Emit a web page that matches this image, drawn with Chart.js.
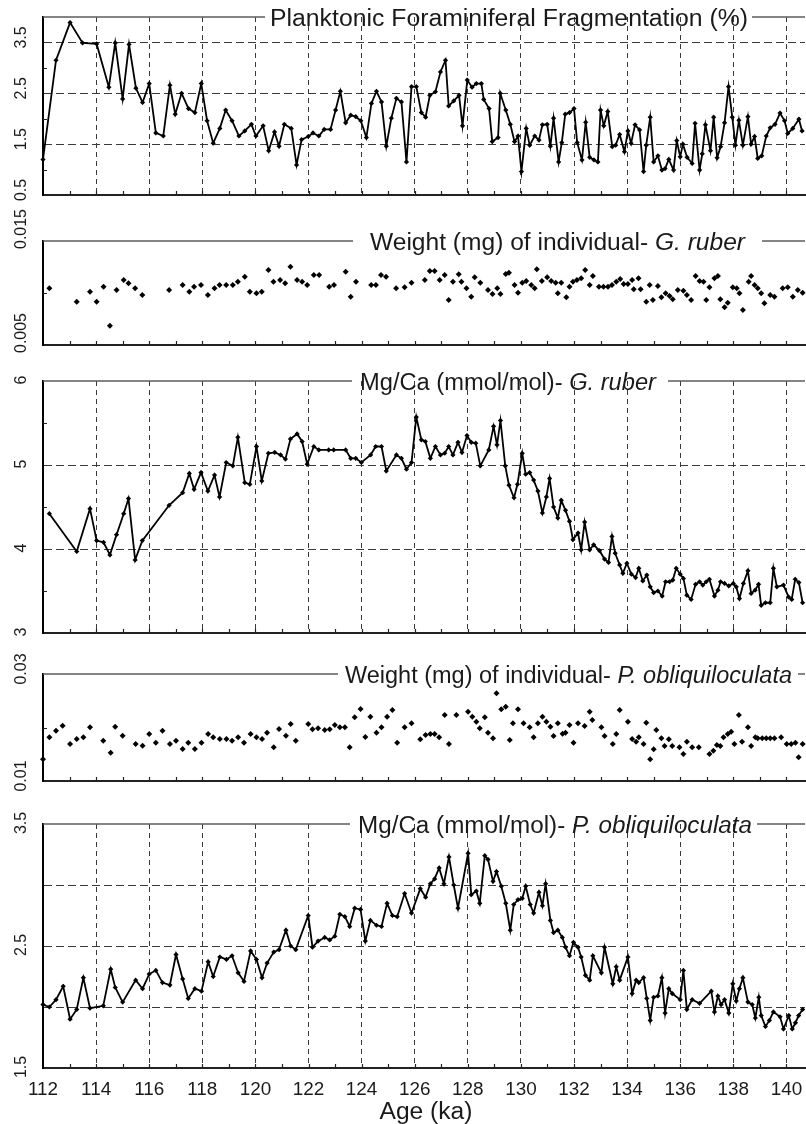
<!DOCTYPE html>
<html>
<head>
<meta charset="utf-8">
<script src="https://cdn.jsdelivr.net/npm/chart.js@4.4.1/dist/chart.umd.min.js"></script>
<style>
  html, body { margin: 0; padding: 0; background: #fff; }
  #wrap { position: relative; width: 806px; height: 1124px; }
  #wrap canvas { position: absolute; left: 0; top: 0; }
</style>
</head>
<body>
<div id="wrap">
  <canvas id="c1" width="806" height="1124"></canvas>
  <canvas id="c2" width="806" height="1124"></canvas>
  <canvas id="c3" width="806" height="1124"></canvas>
  <canvas id="c4" width="806" height="1124"></canvas>
  <canvas id="c5" width="806" height="1124"></canvas>
</div>
<script>
// age axis labels (ka)
const xTicks = ['112', '114', '116', '118', '120', '122', '124', '126', '128', '130', '132', '134', '136', '138', '140'];

// planktonic foraminiferal fragmentation (%)
const fragAge = [112.0, 112.49, 113.02, 113.49, 114.02, 114.48, 114.72, 115.0, 115.24, 115.5, 115.75, 116.0, 116.25, 116.53, 116.78, 116.98, 117.22, 117.48, 117.72, 117.96,
  118.18, 118.41, 118.66, 118.88, 119.12, 119.38, 119.6, 119.85, 120.02, 120.29, 120.5, 120.72, 120.89, 121.09, 121.35, 121.55, 121.74, 121.99, 122.17, 122.39,
  122.59, 122.83, 123.02, 123.2, 123.4, 123.59, 123.78, 123.97, 124.18, 124.37, 124.56, 124.75, 124.93, 125.12, 125.31, 125.5, 125.69, 125.88, 126.06, 126.25,
  126.41, 126.57, 126.78, 126.97, 127.16, 127.28, 127.47, 127.67, 127.8, 127.98, 128.16, 128.32, 128.51, 128.6, 128.8, 128.92, 129.14, 129.22, 129.43, 129.6,
  129.76, 129.89, 130.02, 130.2, 130.33, 130.52, 130.68, 130.81, 130.99, 131.11, 131.23, 131.42, 131.54, 131.67, 131.83, 132.0, 132.12, 132.3, 132.44, 132.59,
  132.75, 132.9, 133.0, 133.12, 133.27, 133.44, 133.57, 133.72, 133.9, 134.03, 134.15, 134.3, 134.47, 134.62, 134.72, 134.87, 135.0, 135.16, 135.31, 135.43,
  135.57, 135.75, 135.87, 136.0, 136.1, 136.26, 136.45, 136.56, 136.73, 136.83, 136.95, 137.14, 137.26, 137.39, 137.52, 137.67, 137.82, 137.96, 138.08, 138.21,
  138.36, 138.55, 138.67, 138.8, 138.92, 139.07, 139.24, 139.39, 139.57, 139.76, 139.93, 140.05, 140.24, 140.47, 140.59];
const fragPct = [1.20, 3.15, 3.89, 3.49, 3.47, 2.62, 3.49, 2.39, 3.46, 2.60, 2.32, 2.69, 1.72, 1.66, 2.66, 2.09, 2.50, 2.20, 2.12, 2.69,
  1.96, 1.52, 1.81, 2.17, 1.96, 1.66, 1.76, 1.89, 1.66, 1.86, 1.37, 1.74, 1.46, 1.89, 1.81, 1.09, 1.59, 1.65, 1.72, 1.66,
  1.79, 1.79, 2.17, 2.54, 1.92, 2.07, 2.04, 1.96, 1.63, 2.30, 2.54, 2.33, 1.46, 2.01, 2.40, 2.33, 1.15, 2.63, 2.63, 2.12,
  2.03, 2.46, 2.53, 2.92, 3.15, 2.25, 2.35, 2.46, 1.86, 2.76, 2.62, 2.69, 2.69, 2.38, 2.20, 1.55, 1.63, 2.50, 2.17, 1.89,
  1.55, 1.66, 0.96, 1.81, 1.48, 1.66, 1.58, 1.88, 1.89, 1.46, 2.01, 1.15, 1.53, 2.09, 2.12, 2.20, 1.53, 1.19, 1.93, 1.24,
  1.19, 1.15, 2.17, 1.86, 2.14, 1.45, 1.48, 1.69, 1.35, 1.76, 1.52, 1.88, 1.78, 0.96, 1.48, 2.03, 1.15, 1.27, 0.99, 1.02,
  1.20, 0.99, 1.57, 1.25, 1.50, 1.24, 1.12, 1.91, 0.99, 1.31, 1.88, 1.37, 2.03, 1.23, 1.45, 1.92, 2.63, 2.03, 1.48, 1.97,
  1.48, 2.04, 1.50, 1.65, 1.22, 1.27, 1.66, 1.82, 1.89, 2.11, 1.96, 1.71, 1.81, 1.99, 1.76];

// G. ruber: shell weight (mg) per individual
const rubWtAge = [112.24, 113.27, 113.77, 114.02, 114.28, 114.52, 114.77, 115.04, 115.22, 115.47, 115.74, 116.75, 117.26, 117.51, 117.69, 117.95, 118.21, 118.46, 118.65, 118.9,
  119.15, 119.34, 119.6, 119.79, 120.04, 120.24, 120.49, 120.68, 120.93, 121.12, 121.32, 121.57, 121.76, 121.95, 122.2, 122.4, 122.78, 122.96, 123.4, 123.59,
  123.79, 124.36, 124.54, 124.73, 124.92, 125.3, 125.62, 125.88, 126.38, 126.57, 126.75, 126.94, 127.13, 127.28, 127.44, 127.66, 127.76, 127.95, 128.13, 128.26,
  128.47, 128.76, 128.93, 129.11, 129.23, 129.43, 129.55, 129.76, 129.89, 130.05, 130.2, 130.39, 130.52, 130.6, 130.79, 130.99, 131.14, 131.31, 131.39, 131.52,
  131.71, 131.83, 131.96, 132.11, 132.27, 132.42, 132.59, 132.71, 132.94, 133.11, 133.28, 133.43, 133.59, 133.74, 133.87, 134.03, 134.19, 134.25, 134.43, 134.51,
  134.72, 134.85, 134.97, 135.16, 135.29, 135.45, 135.6, 135.72, 135.91, 136.12, 136.25, 136.41, 136.58, 136.73, 136.88, 136.98, 137.1, 137.29, 137.42, 137.51,
  137.67, 137.79, 137.98, 138.13, 138.23, 138.36, 138.58, 138.67, 138.8, 138.92, 139.05, 139.17, 139.39, 139.55, 139.86, 140.05, 140.24, 140.43, 140.61];
const rubWt = [0.01045, 0.00916, 0.01013, 0.00916, 0.01061, 0.00686, 0.01029, 0.01125, 0.01093, 0.01045, 0.00981, 0.01029, 0.01077, 0.01013, 0.01061, 0.01077, 0.00981, 0.01045, 0.01077, 0.01077,
  0.01077, 0.01109, 0.01157, 0.01013, 0.00997, 0.01013, 0.01221, 0.01109, 0.01125, 0.01093, 0.01253, 0.01125, 0.01109, 0.01077, 0.01173, 0.01173, 0.01061, 0.01077, 0.01205, 0.00964,
  0.01109, 0.01077, 0.01077, 0.01173, 0.01157, 0.01045, 0.01055, 0.01099, 0.01125, 0.01212, 0.01212, 0.01125, 0.01173, 0.00933, 0.01109, 0.01180, 0.01109, 0.01045, 0.00964, 0.01151,
  0.01099, 0.01029, 0.00990, 0.01045, 0.00990, 0.01183, 0.01195, 0.01077, 0.01003, 0.01099, 0.01115, 0.01077, 0.01045, 0.01228, 0.01115, 0.01151, 0.01115, 0.01099, 0.00997, 0.01099,
  0.00959, 0.01061, 0.01109, 0.01125, 0.01141, 0.01221, 0.01077, 0.01163, 0.01061, 0.01061, 0.01061, 0.01077, 0.01109, 0.01135, 0.01087, 0.01087, 0.01125, 0.01036, 0.01141, 0.01036,
  0.00916, 0.01077, 0.00933, 0.01067, 0.00959, 0.00997, 0.00971, 0.00939, 0.01029, 0.01022, 0.00981, 0.00933, 0.01163, 0.01115, 0.01109, 0.00933, 0.01055, 0.01141, 0.01163, 0.00939,
  0.00862, 0.00907, 0.01055, 0.01045, 0.00997, 0.00837, 0.01109, 0.01163, 0.01077, 0.01045, 0.00997, 0.00901, 0.00981, 0.00964, 0.01045, 0.01055, 0.00964, 0.01029, 0.01003];

// G. ruber: Mg/Ca (mmol/mol)
const rubMgAge = [112.24, 113.27, 113.77, 114.02, 114.28, 114.52, 114.77, 115.04, 115.22, 115.47, 115.74, 116.75, 117.26, 117.51, 117.69, 117.95, 118.21, 118.46, 118.65, 118.9,
  119.15, 119.34, 119.6, 119.79, 120.04, 120.24, 120.49, 120.73, 120.95, 121.13, 121.32, 121.57, 121.76, 121.95, 122.2, 122.39, 122.76, 122.95, 123.4, 123.59,
  123.78, 123.99, 124.34, 124.53, 124.75, 124.93, 125.31, 125.5, 125.69, 125.88, 126.06, 126.25, 126.4, 126.59, 126.78, 126.97, 127.13, 127.28, 127.44, 127.63,
  127.78, 127.97, 128.13, 128.3, 128.47, 128.79, 128.97, 129.1, 129.23, 129.41, 129.55, 129.74, 129.87, 130.05, 130.18, 130.33, 130.48, 130.64, 130.81, 130.96,
  131.08, 131.23, 131.39, 131.52, 131.68, 131.83, 131.96, 132.15, 132.27, 132.4, 132.59, 132.74, 132.96, 133.15, 133.3, 133.43, 133.55, 133.72, 133.84, 133.99,
  134.16, 134.32, 134.44, 134.59, 134.74, 134.87, 135.0, 135.16, 135.32, 135.45, 135.6, 135.72, 135.85, 136.0, 136.12, 136.25, 136.41, 136.58, 136.73, 136.85,
  136.98, 137.1, 137.29, 137.42, 137.52, 137.67, 137.83, 138.0, 138.11, 138.23, 138.38, 138.55, 138.67, 138.82, 138.95, 139.05, 139.21, 139.39, 139.51, 139.64,
  139.89, 140.08, 140.2, 140.33, 140.47, 140.61];
const rubMg = [4.42, 3.97, 4.48, 4.10, 4.08, 3.93, 4.17, 4.42, 4.60, 3.87, 4.10, 4.52, 4.67, 4.90, 4.71, 4.91, 4.69, 4.88, 4.62, 5.03,
  4.99, 5.33, 4.79, 4.77, 5.22, 4.81, 5.14, 5.15, 5.12, 5.07, 5.31, 5.37, 5.28, 5.01, 5.22, 5.18, 5.18, 5.18, 5.18, 5.08,
  5.08, 5.03, 5.12, 5.22, 5.22, 4.93, 5.12, 5.08, 4.95, 5.03, 5.57, 5.30, 5.28, 5.08, 5.22, 5.12, 5.14, 5.22, 5.12, 5.27,
  5.15, 5.35, 5.27, 5.26, 4.99, 5.18, 5.46, 5.24, 5.53, 4.99, 4.76, 4.61, 4.77, 5.14, 4.89, 4.91, 4.82, 4.69, 4.43, 4.62,
  4.84, 4.50, 4.37, 4.58, 4.46, 4.33, 4.11, 4.19, 3.99, 4.32, 3.99, 4.05, 3.98, 3.88, 3.84, 4.15, 3.95, 3.81, 3.71, 3.83,
  3.70, 3.66, 3.77, 3.62, 3.69, 3.55, 3.48, 3.50, 3.44, 3.61, 3.61, 3.63, 3.77, 3.70, 3.65, 3.45, 3.40, 3.58, 3.61, 3.57,
  3.61, 3.64, 3.44, 3.51, 3.61, 3.59, 3.56, 3.59, 3.55, 3.41, 3.59, 3.74, 3.47, 3.51, 3.58, 3.33, 3.36, 3.36, 3.77, 3.55,
  3.57, 3.43, 3.40, 3.64, 3.60, 3.36];

// P. obliquiloculata: shell weight (mg) per individual
const pobWtAge = [112.0, 112.24, 112.49, 112.74, 113.02, 113.27, 113.52, 113.77, 114.27, 114.55, 114.72, 115.0, 115.49, 115.75, 116.0, 116.25, 116.5, 116.78, 117.01, 117.26,
  117.47, 117.72, 117.97, 118.22, 118.41, 118.66, 118.91, 119.12, 119.35, 119.57, 119.82, 120.04, 120.25, 120.44, 120.69, 120.89, 121.15, 121.33, 121.52, 121.99,
  122.15, 122.36, 122.61, 122.8, 122.99, 123.18, 123.37, 123.55, 123.74, 123.96, 124.14, 124.33, 124.56, 124.75, 124.96, 125.16, 125.34, 125.62, 125.88, 126.21,
  126.41, 126.59, 126.75, 126.92, 127.13, 127.29, 127.57, 128.01, 128.17, 128.32, 128.45, 128.64, 128.76, 128.95, 129.08, 129.26, 129.43, 129.58, 129.7, 129.89,
  130.1, 130.33, 130.48, 130.64, 130.81, 130.96, 131.11, 131.23, 131.39, 131.57, 131.68, 131.83, 131.98, 132.15, 132.4, 132.59, 132.69, 133.03, 133.15, 133.46,
  133.59, 133.72, 134.03, 134.19, 134.34, 134.44, 134.62, 134.72, 134.87, 135.0, 135.1, 135.29, 135.41, 135.57, 135.7, 135.97, 136.12, 136.25, 136.45, 136.7,
  137.1, 137.25, 137.38, 137.51, 137.63, 137.79, 137.92, 138.04, 138.21, 138.33, 138.55, 138.67, 138.83, 138.92, 139.09, 139.24, 139.39, 139.55, 139.8, 140.01,
  140.18, 140.34, 140.46, 140.61];
const pobWt = [0.01406, 0.01817, 0.01940, 0.02034, 0.01692, 0.01785, 0.01817, 0.02004, 0.01753, 0.01529, 0.02015, 0.01847, 0.01692, 0.01660, 0.01879, 0.01716, 0.01940, 0.01692, 0.01753, 0.01598,
  0.01716, 0.01598, 0.01716, 0.01879, 0.01817, 0.01785, 0.01785, 0.01753, 0.01817, 0.01716, 0.01879, 0.01817, 0.01785, 0.01903, 0.01630, 0.01972, 0.01847, 0.02065, 0.01753, 0.02065,
  0.01966, 0.01985, 0.01953, 0.01966, 0.02047, 0.02004, 0.02004, 0.01630, 0.02191, 0.02346, 0.01822, 0.02202, 0.01903, 0.02004, 0.02202, 0.02327, 0.01716, 0.02004, 0.02078, 0.01780,
  0.01860, 0.01880, 0.01880, 0.01820, 0.02234, 0.01692, 0.02234, 0.02296, 0.02202, 0.02109, 0.01985, 0.02191, 0.01903, 0.01798, 0.02639, 0.02340, 0.02389, 0.01766, 0.02078, 0.02340,
  0.02078, 0.02004, 0.01817, 0.02078, 0.02202, 0.02109, 0.02015, 0.01841, 0.02078, 0.01884, 0.01903, 0.02047, 0.01716, 0.02078, 0.02028, 0.02296, 0.02140, 0.02004, 0.01841, 0.01692,
  0.01879, 0.02327, 0.02109, 0.01785, 0.01735, 0.01817, 0.01692, 0.02090, 0.01406, 0.01592, 0.01953, 0.01798, 0.01654, 0.01779, 0.01654, 0.01630, 0.01505, 0.01735, 0.01630, 0.01630,
  0.01505, 0.01566, 0.01673, 0.01654, 0.01817, 0.01879, 0.01922, 0.01692, 0.02234, 0.01735, 0.02004, 0.01654, 0.01817, 0.01798, 0.01798, 0.01798, 0.01798, 0.01798, 0.01817, 0.01692,
  0.01692, 0.01716, 0.01443, 0.01692];

// P. obliquiloculata: Mg/Ca (mmol/mol)
const pobMgAge = [112.0, 112.24, 112.49, 112.76, 113.02, 113.27, 113.52, 113.77, 114.27, 114.55, 114.72, 115.0, 115.49, 115.75, 116.0, 116.25, 116.5, 116.78, 117.01, 117.26,
  117.47, 117.72, 117.97, 118.22, 118.41, 118.66, 118.91, 119.12, 119.35, 119.57, 119.82, 120.04, 120.25, 120.44, 120.69, 120.89, 121.15, 121.33, 121.52, 121.99,
  122.15, 122.36, 122.61, 122.8, 122.99, 123.18, 123.37, 123.55, 123.74, 123.96, 124.14, 124.33, 124.56, 124.75, 124.96, 125.16, 125.34, 125.62, 125.88, 126.21,
  126.41, 126.59, 126.75, 126.92, 127.1, 127.29, 127.47, 127.63, 128.01, 128.13, 128.32, 128.45, 128.64, 128.76, 128.95, 129.08, 129.26, 129.43, 129.6, 129.73,
  129.89, 130.05, 130.18, 130.35, 130.48, 130.68, 130.81, 130.93, 131.11, 131.23, 131.39, 131.56, 131.68, 131.83, 131.98, 132.15, 132.27, 132.43, 132.59, 132.71,
  133.03, 133.15, 133.46, 133.59, 133.72, 134.03, 134.19, 134.34, 134.44, 134.62, 134.74, 134.87, 135.0, 135.16, 135.31, 135.43, 135.57, 135.7, 136.0, 136.12,
  136.25, 136.45, 136.73, 137.17, 137.29, 137.42, 137.54, 137.67, 137.83, 137.98, 138.11, 138.23, 138.36, 138.55, 138.71, 138.83, 138.96, 139.05, 139.21, 139.36,
  139.51, 139.76, 139.89, 140.09, 140.22, 140.34, 140.46, 140.61];
const pobMg = [2.02, 2.00, 2.06, 2.17, 1.90, 1.98, 2.24, 1.99, 2.01, 2.31, 2.16, 2.04, 2.22, 2.15, 2.27, 2.30, 2.20, 2.18, 2.43, 2.23,
  2.07, 2.15, 2.13, 2.37, 2.25, 2.41, 2.39, 2.42, 2.28, 2.21, 2.46, 2.39, 2.24, 2.36, 2.45, 2.47, 2.63, 2.50, 2.47, 2.75,
  2.49, 2.54, 2.57, 2.55, 2.58, 2.76, 2.74, 2.66, 2.81, 2.80, 2.54, 2.71, 2.67, 2.66, 2.85, 2.75, 2.74, 2.93, 2.77, 2.97,
  2.90, 3.01, 3.05, 3.14, 3.01, 3.23, 3.00, 2.81, 3.26, 2.92, 2.95, 2.85, 3.24, 3.21, 3.03, 3.11, 2.99, 2.85, 2.63, 2.84,
  2.88, 2.89, 2.99, 2.84, 2.77, 2.94, 2.83, 3.01, 2.71, 2.61, 2.63, 2.57, 2.49, 2.42, 2.53, 2.49, 2.41, 2.26, 2.22, 2.42,
  2.28, 2.49, 2.19, 2.33, 2.22, 2.41, 2.11, 2.22, 2.20, 2.24, 2.07, 1.89, 2.08, 2.09, 2.24, 1.95, 2.15, 2.11, 2.06, 2.30,
  1.98, 2.06, 2.03, 2.13, 1.96, 2.09, 2.02, 2.06, 1.95, 2.19, 2.05, 2.15, 2.24, 2.04, 2.02, 1.91, 2.08, 1.93, 1.84, 1.89,
  1.96, 1.92, 1.82, 1.93, 1.82, 1.87, 1.93, 1.98];

// y tick labels, one list per panel
const fragTicks = ['0.5', '1.5', '2.5', '3.5'];
const rubWtTicks = ['0.005', '0.015'];
const rubMgTicks = ['3', '4', '5', '6'];
const pobWtTicks = ['0.01', '0.03'];
const pobMgTicks = ['1.5', '2.5', '3.5'];

const FONT = '"Liberation Sans", Arial, Helvetica, sans-serif';
const INK = '#1a1a1a';
const PAGE_H = 1124;

function pts(ages, vals) {
  return ages.map((a, i) => ({ x: a, y: vals[i] }));
}

// text run made of [string, italic] parts, squeezed/stretched to span x0..x1
function drawRun(ctx, parts, x0, x1, baseline, size) {
  let total = 0;
  const widths = parts.map(([s, it]) => {
    ctx.font = (it ? 'italic ' : '') + size + 'px ' + FONT;
    const w = ctx.measureText(s).width;
    total += w;
    return w;
  });
  ctx.save();
  ctx.translate(x0, baseline);
  ctx.scale((x1 - x0) / total, 1);
  ctx.textAlign = 'left';
  ctx.textBaseline = 'alphabetic';
  let cx = 0;
  parts.forEach(([s, it], i) => {
    ctx.font = (it ? 'italic ' : '') + size + 'px ' + FONT;
    ctx.fillText(s, cx, 0);
    cx += widths[i];
  });
  ctx.restore();
}

function drawWide(ctx, s, cx, baseline, size, sx) {
  ctx.save();
  ctx.font = size + 'px ' + FONT;
  ctx.translate(cx, baseline);
  ctx.scale(sx, 1);
  ctx.textAlign = 'center';
  ctx.textBaseline = 'alphabetic';
  ctx.fillText(s, 0, 0);
  ctx.restore();
}

const panelDeco = {
  id: 'panelDeco',
  afterDraw(chart, args, o) {
    const { ctx, chartArea: a, scales: { x, y } } = chart;
    ctx.save();

    // top rule, broken where the panel title sits
    ctx.strokeStyle = '#5e5e5e';
    ctx.lineWidth = 1.5;
    ctx.beginPath();
    ctx.moveTo(a.left, a.top);
    ctx.lineTo(o.lineL, a.top);
    if (o.lineR < a.right) {
      ctx.moveTo(o.lineR, a.top);
      ctx.lineTo(a.right, a.top);
    }
    ctx.stroke();

    ctx.fillStyle = INK;
    drawRun(ctx, o.title, o.tx0, o.tx1, a.top + 9, 23);

    // small inward ticks: every ka on the bottom axis, minor values on the left axis
    ctx.strokeStyle = '#222';
    ctx.lineWidth = 1.2;
    ctx.beginPath();
    for (let v = 113; v <= 140; v++) {
      const px = Math.round(x.getPixelForValue(v)) + 0.5;
      ctx.moveTo(px, a.bottom);
      ctx.lineTo(px, a.bottom - 4);
    }
    o.yMinor.forEach(v => {
      const py = Math.round(y.getPixelForValue(v)) + 0.5;
      ctx.moveTo(a.left, py);
      ctx.lineTo(a.left + 4, py);
    });
    ctx.stroke();

    // rotated y tick labels
    ctx.font = '16px ' + FONT;
    ctx.textAlign = 'center';
    ctx.textBaseline = 'middle';
    o.yTicks.forEach(t => {
      ctx.save();
      ctx.translate(22, y.getPixelForValue(+t) + o.labelShift);
      ctx.rotate(-Math.PI / 2);
      ctx.fillText(t, 0, 0);
      ctx.restore();
    });

    if (o.xLabels) {
      xTicks.forEach(t => drawWide(ctx, t, x.getPixelForValue(+t), a.bottom + 27, 18, 1.05));
      drawWide(ctx, 'Age (ka)', 426, a.bottom + 51, 23, 1.07);
    }
    ctx.restore();
  }
};

const xGrid = [114, 116, 118, 120, 122, 124, 126, 128, 130, 132, 134, 136, 138, 140];

function makePanel(p) {
  const ds = {
    data: pts(p.ages, p.vals),
    showLine: p.line,
    borderColor: '#000',
    borderWidth: 1.8,
    backgroundColor: '#000',
    pointStyle: 'rectRot',
    pointRadius: p.line ? 2.6 : 3,
    pointBorderWidth: 0,
    pointBackgroundColor: '#000',
    tension: 0,
    clip: false
  };
  return new Chart(document.getElementById(p.id), {
    type: 'scatter',
    data: { datasets: [ds] },
    options: {
      responsive: false,
      animation: false,
      events: [],
      layout: {
        autoPadding: false,
        padding: { left: 43, right: 1, top: p.top, bottom: PAGE_H - p.bottom }
      },
      plugins: {
        legend: { display: false },
        tooltip: { enabled: false },
        panelDeco: p.deco
      },
      scales: {
        x: {
          type: 'linear',
          min: 112,
          max: 140.7,
          bounds: 'data',
          afterBuildTicks: s => { s.ticks = xGrid.map(v => ({ value: v })); },
          ticks: { display: false },
          grid: { display: p.grid, drawTicks: false, color: '#3a3a3a', lineWidth: 1 },
          border: { display: true, color: '#222', width: 2, dash: [5, 4] }
        },
        y: {
          type: 'linear',
          min: p.yMin,
          max: p.yMax,
          bounds: 'data',
          afterBuildTicks: s => { s.ticks = p.yGrid.map(v => ({ value: v })); },
          ticks: { display: false },
          grid: { display: p.grid, drawTicks: false, color: '#3a3a3a', lineWidth: 1 },
          border: { display: true, color: '#000', width: 2, dash: [8, 4] }
        }
      }
    },
    plugins: [panelDeco]
  });
}

makePanel({
  id: 'c1', top: 17, bottom: 195, yMin: 0.5, yMax: 4.0, yGrid: [1.5, 2.5, 3.5], grid: true, line: true,
  ages: fragAge, vals: fragPct,
  deco: { title: [['Planktonic Foraminiferal Fragmentation (%)', false]], tx0: 270, tx1: 748, lineL: 265, lineR: 752,
    yMinor: [1, 2, 3], yTicks: fragTicks, labelShift: -5 }
});
makePanel({
  id: 'c2', top: 241, bottom: 345, yMin: 0.005, yMax: 0.015, yGrid: [], grid: false, line: false,
  ages: rubWtAge, vals: rubWt,
  deco: { title: [['Weight (mg) of individual- ', false], ['G. ruber', true]], tx0: 370, tx1: 745, lineL: 353, lineR: 762,
    yMinor: [0.01], yTicks: rubWtTicks, labelShift: -12 }
});
makePanel({
  id: 'c3', top: 381, bottom: 633, yMin: 3, yMax: 6, yGrid: [4, 5], grid: true, line: true,
  ages: rubMgAge, vals: rubMg,
  deco: { title: [['Mg/Ca (mmol/mol)- ', false], ['G. ruber', true]], tx0: 360, tx1: 656, lineL: 352, lineR: 668,
    yMinor: [3.5, 4.5, 5.5], yTicks: rubMgTicks, labelShift: -1 }
});
makePanel({
  id: 'c4', top: 674, bottom: 781, yMin: 0.01, yMax: 0.03, yGrid: [], grid: false, line: false,
  ages: pobWtAge, vals: pobWt,
  deco: { title: [['Weight (mg) of individual- ', false], ['P. obliquiloculata', true]], tx0: 345, tx1: 792, lineL: 338, lineR: 798,
    yMinor: [0.02], yTicks: pobWtTicks, labelShift: -5 }
});
makePanel({
  id: 'c5', top: 824, bottom: 1068, yMin: 1.5, yMax: 3.5, yGrid: [2, 2.5, 3], grid: true, line: true,
  ages: pobMgAge, vals: pobMg,
  deco: { title: [['Mg/Ca (mmol/mol)- ', false], ['P. obliquiloculata', true]], tx0: 358, tx1: 752, lineL: 350, lineR: 757,
    yMinor: [], yTicks: pobMgTicks, labelShift: -1, xLabels: true }
});
</script>
</body>
</html>
